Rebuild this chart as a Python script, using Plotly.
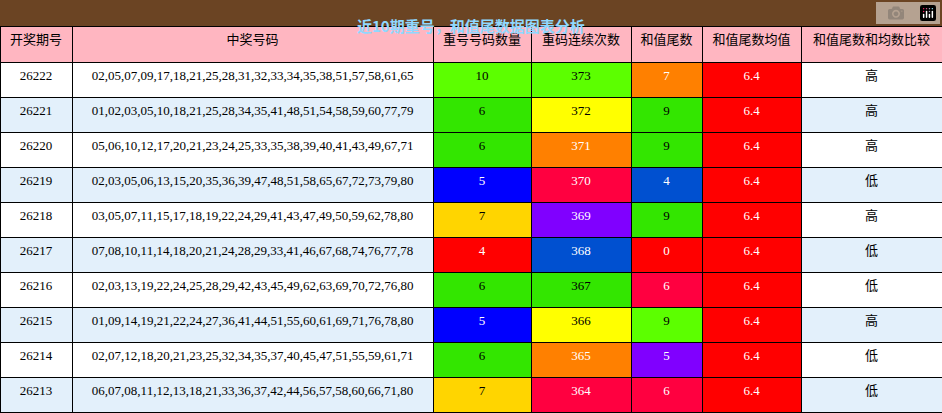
import plotly.graph_objects as go

periods = ["26222", "26221", "26220", "26219", "26218", "26217", "26216", "26215", "26214", "26213"]
numbers = [
    "02,05,07,09,17,18,21,25,28,31,32,33,34,35,38,51,57,58,61,65",
    "01,02,03,05,10,18,21,25,28,34,35,41,48,51,54,58,59,60,77,79",
    "05,06,10,12,17,20,21,23,24,25,33,35,38,39,40,41,43,49,67,71",
    "02,03,05,06,13,15,20,35,36,39,47,48,51,58,65,67,72,73,79,80",
    "03,05,07,11,15,17,18,19,22,24,29,41,43,47,49,50,59,62,78,80",
    "07,08,10,11,14,18,20,21,24,28,29,33,41,46,67,68,74,76,77,78",
    "02,03,13,19,22,24,25,28,29,42,43,45,49,62,63,69,70,72,76,80",
    "01,09,14,19,21,22,24,27,36,41,44,51,55,60,61,69,71,76,78,80",
    "02,07,12,18,20,21,23,25,32,34,35,37,40,45,47,51,55,59,61,71",
    "06,07,08,11,12,13,18,21,33,36,37,42,44,56,57,58,60,66,71,80",
]
repeat_count = [10, 6, 6, 5, 7, 4, 6, 5, 6, 7]
repeat_streak = [373, 372, 371, 370, 369, 368, 367, 366, 365, 364]
sum_tail = [7, 9, 9, 4, 9, 0, 6, 9, 5, 6]
tail_mean = [6.4] * 10
compare = ["高", "高", "高", "低", "高", "低", "低", "高", "低", "低"]

headers = ["开奖期号", "中奖号码", "重号号码数量", "重码连续次数", "和值尾数", "和值尾数均值", "和值尾数和均数比较"]

LIME, GREEN, BLUE, GOLD, RED = "#5cff00", "#33e600", "#0000ff", "#ffd500", "#ff0000"
YELLOW, ORANGE, CRIMSON, PURPLE, MBLUE = "#ffff00", "#ff8000", "#ff0040", "#8000ff", "#0050d0"

count_colors = {10: LIME, 6: GREEN, 5: BLUE, 7: GOLD, 4: RED}
streak_colors = [LIME, YELLOW, ORANGE, CRIMSON, PURPLE, MBLUE, GREEN, YELLOW, ORANGE, CRIMSON]
tail_colors = {7: ORANGE, 9: GREEN, 4: MBLUE, 0: RED, 6: CRIMSON, 5: PURPLE}
dark = {BLUE, RED, ORANGE, CRIMSON, PURPLE, MBLUE}

stripe = ["white" if i % 2 == 0 else "#e3f0fb" for i in range(10)]
c_cnt = [count_colors[v] for v in repeat_count]
c_tail = [tail_colors[v] if i != 7 else LIME for i, v in enumerate(sum_tail)]
c_mean = [RED] * 10
fills = [stripe, stripe, c_cnt, streak_colors, c_tail, c_mean, stripe]
fonts = [["black"] * 10 if f is stripe else ["white" if c in dark else "black" for c in f] for f in fills]

fig = go.Figure(go.Table(
    columnwidth=[72, 361, 98, 100, 71, 99, 141],
    header=dict(values=headers, fill_color="#ffb6c1", line_color="black", height=36,
                align="center", font=dict(family="Noto Sans CJK SC", size=13, color="black")),
    cells=dict(values=[periods, numbers, repeat_count, repeat_streak, sum_tail, tail_mean, compare],
               fill_color=fills, line_color="black", height=35, align="center",
               font=dict(family="Liberation Serif, Noto Sans CJK SC", size=13, color=fonts)),
    domain=dict(x=[0, 1], y=[0, 387 / 413]),
))
fig.add_shape(type="rect", xref="paper", yref="paper", x0=0, x1=1, y0=387 / 413, y1=1,
              fillcolor="#6b4423", line_width=0, layer="below")
fig.add_annotation(text="<b>近10期重号，和值尾数据图表分析</b>", xref="paper", yref="paper",
                   x=0.5, y=400 / 413, showarrow=False,
                   font=dict(family="Noto Sans CJK SC", size=15, color="#8fd8ff"))
fig.update_layout(width=942, height=413, margin=dict(l=0, r=0, t=0, b=0), paper_bgcolor="white")
fig.write_html("out.html", post_script="document.body.style.margin='0';")
